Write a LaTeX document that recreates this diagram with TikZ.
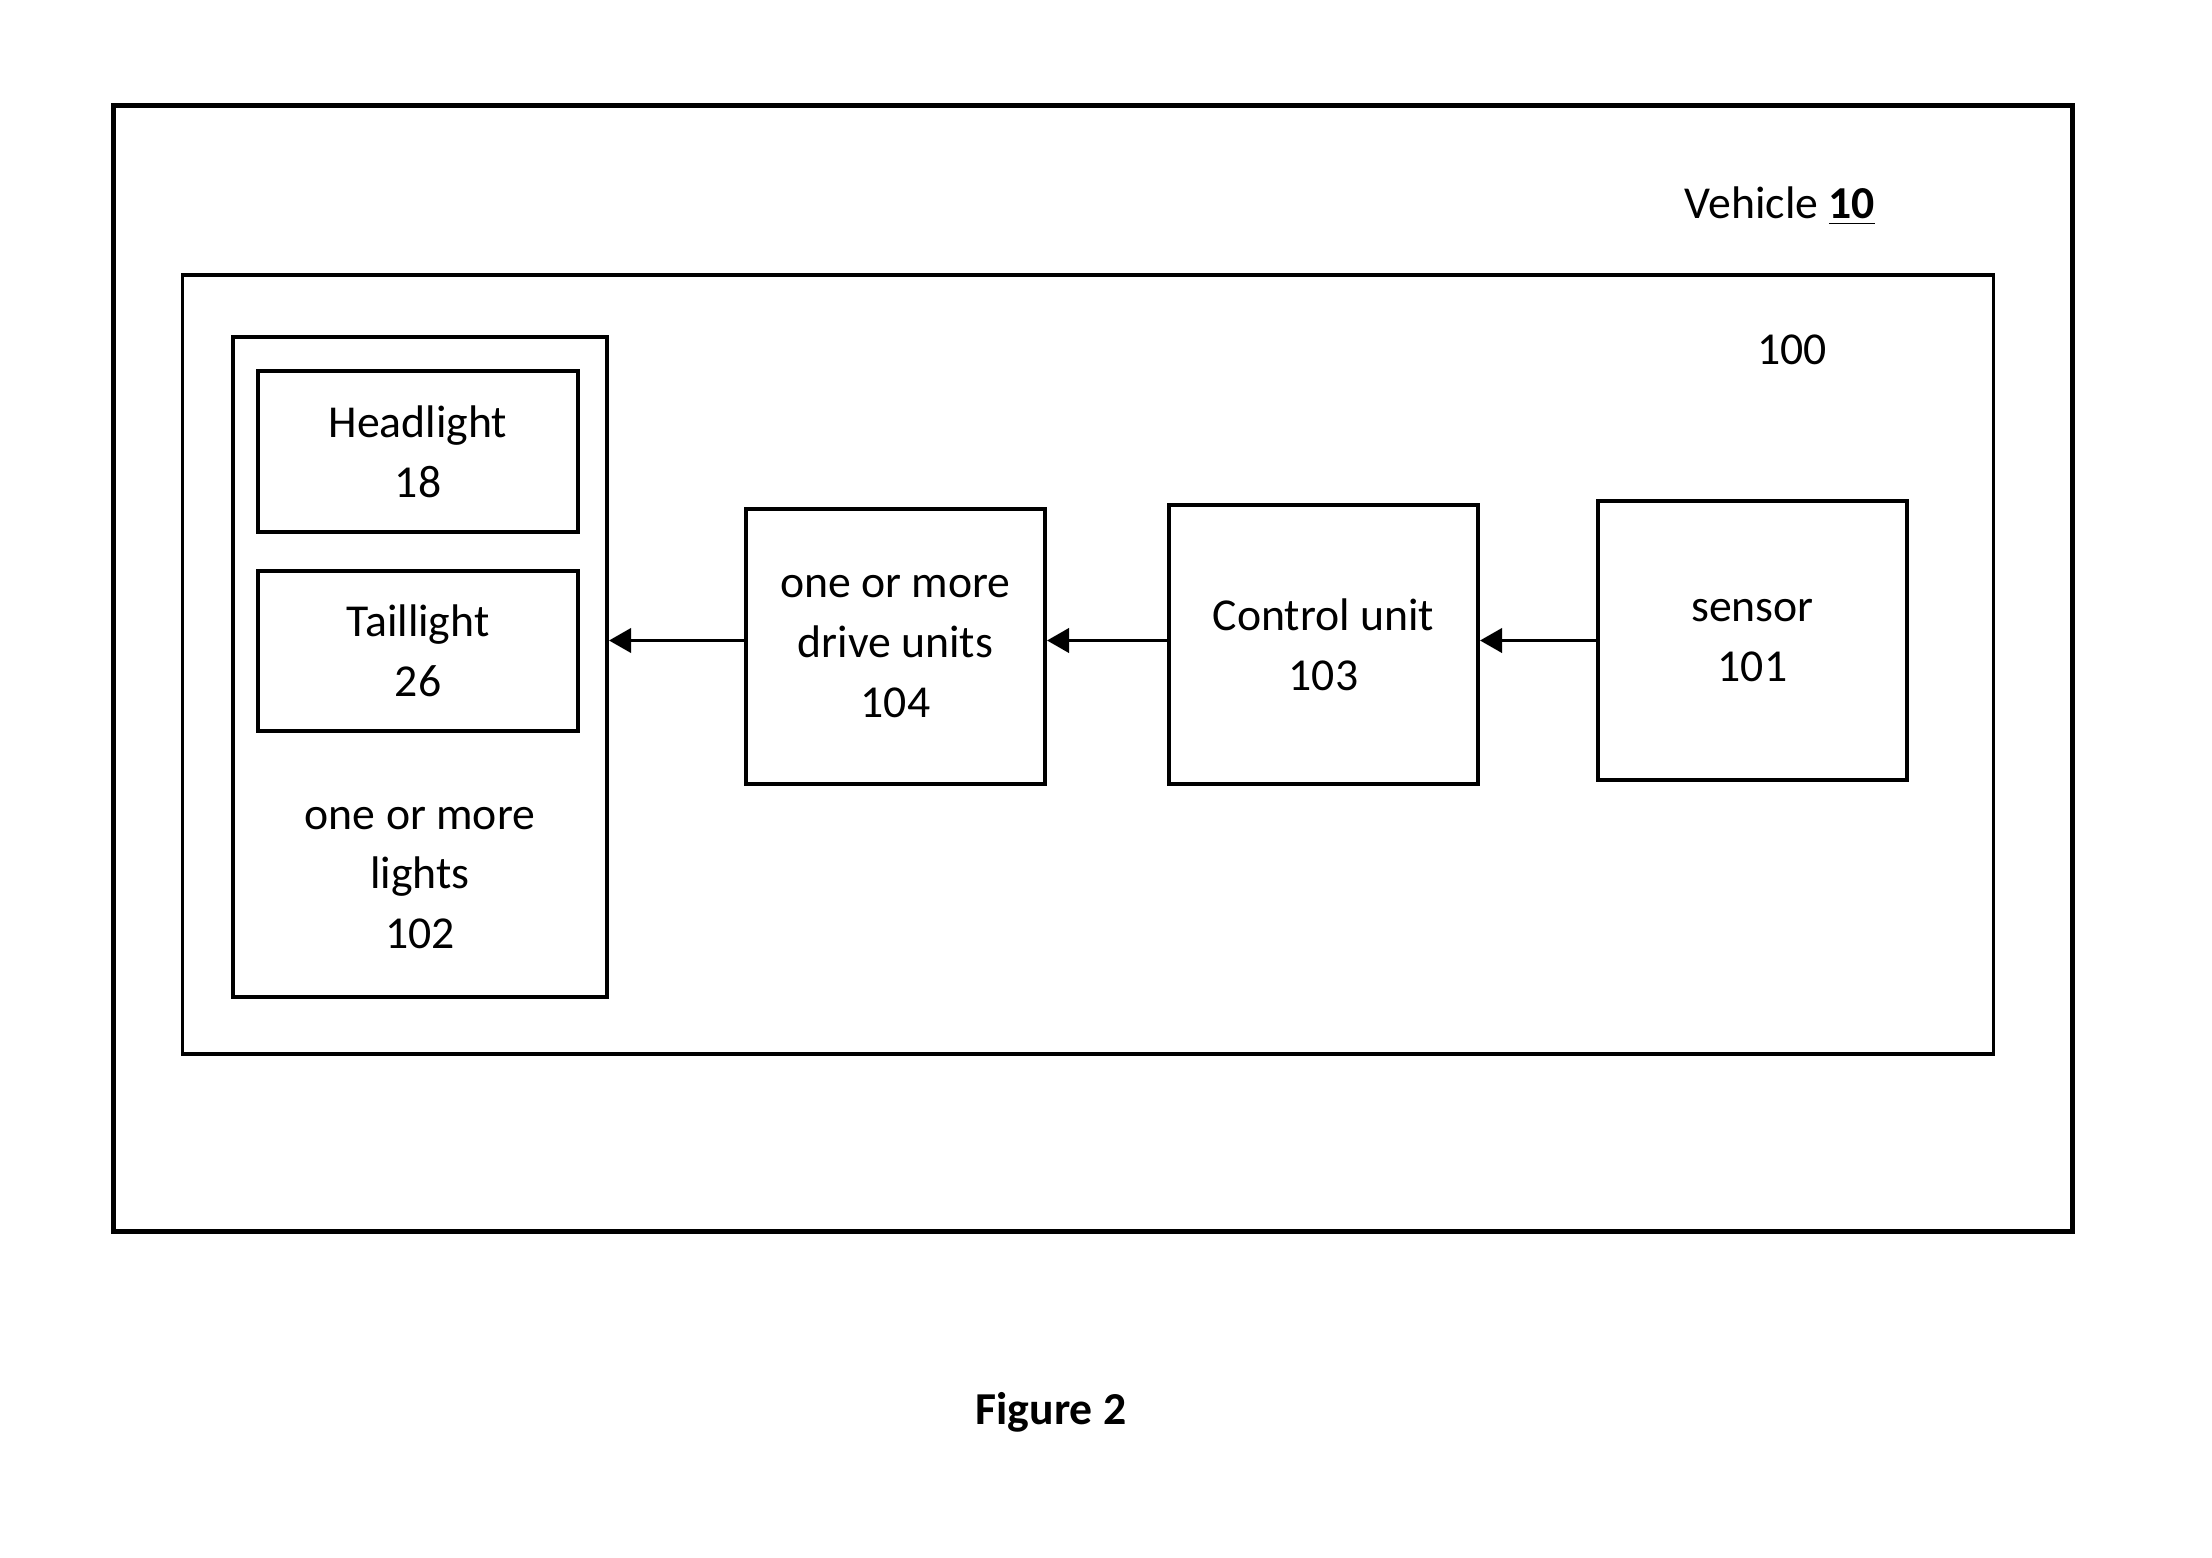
\documentclass[tikz,border=0pt]{standalone}
\usepackage{fontspec}
\setmainfont{Carlito}
\usetikzlibrary{arrows.meta}

\begin{document}
\begin{tikzpicture}[x=0.01cm,y=-0.01cm]
\tikzstyle{every node}=[font=\fontsize{13}{17}\selectfont, align=center, inner sep=0pt]
\tikzstyle{box}=[draw, rectangle, line width=1.1pt]
\tikzstyle{conn}=[line width=0.75pt, -{Triangle[length=6.3pt,width=7pt]}]
\useasboundingbox (0,0) rectangle (2212,1558);
% frames
\draw (1093,668.5) node (vehicle) [box, line width=1.4pt, minimum width=19.58cm, minimum height=11.25cm] {};
\draw (1088,664.5) node (sys) [box, minimum width=18.1cm, minimum height=7.79cm] {};
\draw (1780,206) node (vehlabel) {Vehicle \underline{\textbf{10}}};
\draw (1792,350) node (syslabel) {100};
% lights
\draw (420,667) node (lights) [box, minimum width=3.74cm, minimum height=6.6cm] {};
\draw (418,451.5) node (head) [box, minimum width=3.2cm, minimum height=1.61cm] {Headlight\\18};
\draw (418,651) node (tail) [box, minimum width=3.2cm, minimum height=1.6cm] {Taillight\\26};
\draw (420,878) node (lightslabel) {one or more\\lights\\102};
% chain
\draw (895.5,646.5) node (drive) [box, minimum width=2.99cm, minimum height=2.75cm] {one or more\\drive units\\104};
\draw (1323.5,644.5) node (ctrl) [box, minimum width=3.09cm, minimum height=2.79cm] {Control unit\\103};
\draw (1752.5,640.5) node (sensor) [box, minimum width=3.09cm, minimum height=2.79cm] {sensor\\101};
\draw[conn] (sensor.west) -- (ctrl.east |- sensor.west);
\draw[conn] (ctrl.west |- sensor.west) -- (drive.east |- sensor.west);
\draw[conn] (drive.west |- sensor.west) -- (lights.east |- sensor.west);
\draw (1051,1412) node (caption) {\textbf{Figure 2}};
\end{tikzpicture}
\end{document}
